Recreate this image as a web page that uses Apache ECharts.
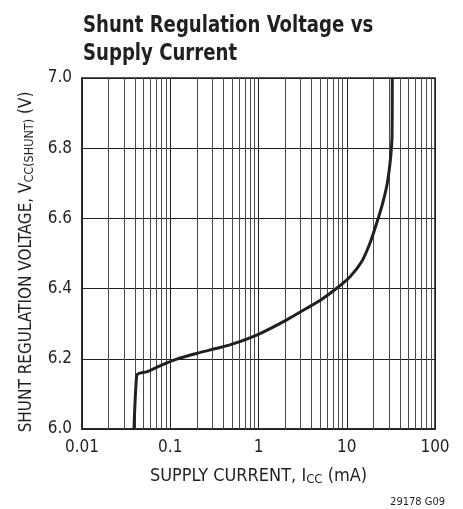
<!DOCTYPE html>
<html>
<head>
<meta charset="utf-8">
<script src="https://cdn.jsdelivr.net/npm/echarts@6/dist/echarts.min.js"></script>
<style>
html,body{margin:0;padding:0;background:#fff;}
#c{width:463px;height:509px;}
</style>
</head>
<body>
<div id="c"></div>
<script>
// Data
const supplyCurrent = [0.0388, 0.0417, 0.0454, 0.0541, 0.0765, 0.118, 0.203, 0.366, 0.566, 1.04, 2.09, 3.52, 4.98, 7.69, 10.9, 14.8, 18.3, 21.8, 25.5, 28.8, 31.5, 32.6, 32.8];
const shuntVoltage = [6.0, 6.154, 6.159, 6.163, 6.180, 6.199, 6.216, 6.232, 6.246, 6.272, 6.311, 6.344, 6.366, 6.401, 6.434, 6.477, 6.529, 6.586, 6.643, 6.700, 6.776, 6.833, 7.0];
const xTickLabels = ['0.01', '0.1', '1', '10', '100'];
const yTickLabels = ['6.0', '6.2', '6.4', '6.6', '6.8', '7.0'];
const decadeStarts = [0.01, 0.1, 1, 10];
const minorMultipliers = [2, 3, 4, 5, 6, 7, 8, 9];

const FONT = "'Liberation Sans Narrow', 'Arial Narrow', 'DejaVu Sans Condensed', sans-serif";
const INK = '#231f20';

const minorLines = [];
decadeStarts.forEach(d => minorMultipliers.forEach(m => minorLines.push({ xAxis: +(d * m).toPrecision(3) })));

const chart = echarts.init(document.getElementById('c'), null, { renderer: 'canvas' });
chart.setOption({
  animation: false,
  backgroundColor: '#fff',
  grid: { left: 82, right: 28, top: 78, bottom: 80, show: true, borderColor: INK, borderWidth: 1.5, backgroundColor: 'transparent' },
  xAxis: {
    type: 'log',
    logBase: 10,
    min: 0.01,
    max: 100,
    name: 'SUPPLY CURRENT, I{sub|CC} (mA)',
    nameLocation: 'middle',
    nameGap: 37,
    nameTextStyle: {
      fontFamily: FONT, fontSize: 18, color: INK,
      rich: { sub: { fontFamily: FONT, fontSize: 13, color: INK, verticalAlign: 'bottom', padding: [7, 0, 0, 0] } }
    },
    axisLine: { show: true, lineStyle: { color: INK, width: 1.5 } },
    axisTick: { show: false },
    axisLabel: {
      margin: 10, fontFamily: FONT, fontSize: 17, color: INK,
      formatter: v => xTickLabels[Math.round(Math.log10(v)) + 2]
    },
    splitLine: { show: true, lineStyle: { color: INK, width: 1 } },
    minorTick: { show: false },
    minorSplitLine: { show: false }
  },
  yAxis: {
    type: 'value',
    min: 6.0,
    max: 7.0,
    interval: 0.2,
    name: 'SHUNT REGULATION VOLTAGE, V{sub|CC(SHUNT)} (V)',
    nameLocation: 'middle',
    nameGap: 46,
    nameTextStyle: {
      fontFamily: FONT, fontSize: 17, color: INK, padding: [0, 17, 0, 0],
      rich: { sub: { fontFamily: FONT, fontSize: 12.5, color: INK, verticalAlign: 'bottom', padding: [6, 0, 0, 0] } }
    },
    axisLine: { show: true, lineStyle: { color: INK, width: 1.5 } },
    axisTick: { show: false },
    axisLabel: {
      margin: 10, fontFamily: FONT, fontSize: 17, color: INK,
      formatter: v => yTickLabels[Math.round((v - 6.0) / 0.2)]
    },
    splitLine: { show: true, lineStyle: { color: INK, width: 1 } }
  },
  graphic: [{
    type: 'text',
    x: 83,
    y: 12,
    scaleX: 0.875,
    style: {
      text: 'Shunt Regulation Voltage vs\nSupply Current',
      fontFamily: FONT, fontWeight: 'bold', fontSize: 23, lineHeight: 28, fill: INK
    }
  }, {
    type: 'text',
    right: 18,
    top: 497,
    style: { text: '29178 G09', fontFamily: FONT, fontSize: 11, fill: INK }
  }],
  series: [{
    type: 'line',
    data: supplyCurrent.map((c, i) => [c, shuntVoltage[i]]),
    showSymbol: false,
    symbol: 'none',
    smooth: 0.2,
    lineStyle: { color: INK, width: 3 },
    z: 5,
    markLine: {
      silent: true,
      symbol: 'none',
      label: { show: false },
      animation: false,
      lineStyle: { color: '#4a4a4a', width: 1, type: 'solid' },
      data: minorLines,
      z: 1
    }
  }]
});
</script>
</body>
</html>
